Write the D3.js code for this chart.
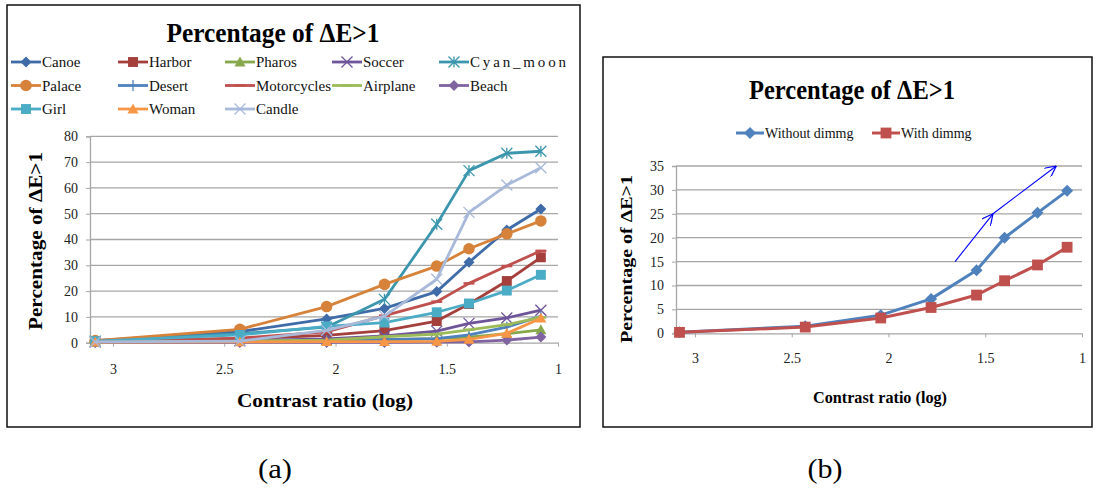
<!DOCTYPE html>
<html>
<head>
<meta charset="utf-8">
<script src="https://cdn.jsdelivr.net/npm/d3@7"></script>
<style>
  html, body { margin: 0; padding: 0; background: #fff; }
  svg { display: block; }
  text { font-family: "Liberation Serif", "Times New Roman", serif; }
</style>
</head>
<body>
<svg id="fig" width="1096" height="488"></svg>
<script>
// Contrast ratio (log) sample positions shared by every series
const contrastLog = [3.08, 2.43, 2.04, 1.78, 1.545, 1.40, 1.23, 1.077];

// Panel (a): percentage of pixels with ΔE > 1 per test image
const seriesNames = ["Canoe", "Harbor", "Pharos", "Soccer", "Cyan_moon", "Palace", "Desert",
                     "Motorcycles", "Airplane", "Beach", "Girl", "Woman", "Candle"];
const canoe       = [0.8, 4.3, 9.2, 13.3, 19.8, 31.2, 43.7, 51.8];
const harbor      = [0.5, 1.5, 2.8, 4.7, 8.4, 15.0, 23.9, 33.1];
const pharos      = [0.2, 0.4, 0.8, 1.2, 1.6, 2.2, 3.5, 5.0];
const soccer      = [0.3, 0.8, 1.5, 2.6, 4.5, 7.5, 9.6, 12.6];
const cyanMoon    = [0.6, 3.5, 6.0, 16.8, 45.9, 66.7, 73.4, 74.2];
const palace      = [0.8, 5.2, 14.0, 22.6, 29.7, 36.4, 42.2, 47.2];
const desert      = [0.3, 0.6, 0.9, 1.2, 1.6, 3.0, 6.0, 10.3];
const motorcycles = [0.5, 1.8, 4.2, 10.5, 15.9, 23.0, 29.7, 35.6];
const airplane    = [0.3, 0.6, 1.0, 2.3, 3.3, 5.0, 7.0, 9.8];
const beach       = [0.1, 0.1, 0.1, 0.1, 0.2, 0.3, 1.0, 2.2];
const girl        = [0.6, 3.0, 6.3, 7.8, 11.8, 15.2, 20.2, 26.3];
const woman       = [0.2, 0.3, 0.4, 0.4, 0.5, 1.3, 3.6, 9.5];
const candle      = [0.3, 0.6, 4.8, 10.3, 24.6, 50.5, 61.1, 67.8];
const seriesValues = [canoe, harbor, pharos, soccer, cyanMoon, palace, desert,
                      motorcycles, airplane, beach, girl, woman, candle];
const seriesColors = ["#3F6CA8", "#A43F3C", "#86A84B", "#6E5499", "#3C96AD", "#D7823A", "#4F81BD",
                      "#C0504D", "#9BBB59", "#8064A2", "#4BACC6", "#F79646", "#A8B9DA"];
const seriesMarkers = ["diamond", "square", "triangle", "x", "star", "circle", "plus",
                       "dash", "dash", "diamond", "square", "triangle", "x"];
const yTicksA = [0, 10, 20, 30, 40, 50, 60, 70, 80];
const xTicks = [3, 2.5, 2, 1.5, 1];

// Panel (b): average over all images, without and with dimming
const dimNames = ["Without dimmg", "With dimmg"];
const withoutDimming = [0.2, 1.5, 3.8, 7.2, 13.2, 20.0, 25.2, 29.8];
const withDimming    = [0.2, 1.3, 3.2, 5.4, 8.0, 11.0, 14.3, 18.0];
const dimColors = ["#4F81BD", "#C0504D"];
const dimMarkers = ["diamond", "square"];
const yTicksB = [0, 5, 10, 15, 20, 25, 30, 35];
// trend arrow annotation, as (contrast log, percentage) pairs
const trendArrow = [[1.656, 15], [1.46, 25], [1.133, 35]];

const svg = d3.select("#fig");
const gridColor = "#A6A6A6";

function drawMarker(g, type, x, y, color, size) {
  const s = size / 2;
  if (type === "diamond") {
    g.append("path").attr("d", `M${x},${y - s}L${x + s},${y}L${x},${y + s}L${x - s},${y}Z`).attr("fill", color);
  } else if (type === "square") {
    g.append("rect").attr("x", x - s * 0.9).attr("y", y - s * 0.9).attr("width", s * 1.8).attr("height", s * 1.8).attr("fill", color);
  } else if (type === "triangle") {
    g.append("path").attr("d", `M${x},${y - s}L${x + s},${y + s * 0.8}L${x - s},${y + s * 0.8}Z`).attr("fill", color);
  } else if (type === "circle") {
    g.append("circle").attr("cx", x).attr("cy", y).attr("r", s * 1.05).attr("fill", color);
  } else if (type === "x") {
    g.append("path").attr("d", `M${x - s},${y - s}L${x + s},${y + s}M${x - s},${y + s}L${x + s},${y - s}`)
      .attr("stroke", color).attr("stroke-width", 1.3).attr("fill", "none");
  } else if (type === "star") {
    g.append("path").attr("d", `M${x - s},${y - s}L${x + s},${y + s}M${x - s},${y + s}L${x + s},${y - s}M${x},${y - s}L${x},${y + s}`)
      .attr("stroke", color).attr("stroke-width", 1.3).attr("fill", "none");
  } else if (type === "plus") {
    g.append("path").attr("d", `M${x},${y - s}L${x},${y + s}`)
      .attr("stroke", color).attr("stroke-width", 1.3).attr("fill", "none");
  } else if (type === "dash") {
    g.append("path").attr("d", `M${x - s},${y}L${x + s},${y}`)
      .attr("stroke", color).attr("stroke-width", 2.5).attr("fill", "none");
  }
}

function drawPanel(opt) {
  const g = svg.append("g");
  const clipId = opt.id + "-clip";
  svg.append("clipPath").attr("id", clipId).append("rect")
    .attr("x", opt.box[0]).attr("y", opt.box[1]).attr("width", opt.box[2] - opt.box[0]).attr("height", opt.box[3] - opt.box[1]);
  const inner = g.append("g").attr("clip-path", `url(#${clipId})`);

  const x = d3.scaleLinear().domain(opt.xDomain).range([opt.plot.left, opt.plot.right]);
  const y = d3.scaleLinear().domain([0, opt.yMax]).range([opt.plot.bottom, opt.plot.top]);

  // horizontal gridlines
  inner.append("g").selectAll("line").data(opt.yTicks.filter(d => d > 0)).join("line")
    .attr("x1", opt.plot.left).attr("x2", opt.plot.right)
    .attr("y1", d => y(d)).attr("y2", d => y(d))
    .attr("stroke", gridColor).attr("stroke-width", 1.3);

  // y axis
  const yAxis = inner.append("g").attr("transform", `translate(${opt.plot.left},0)`)
    .call(d3.axisLeft(y).tickValues(opt.yTicks).tickSize(4).tickPadding(8).tickFormat(d3.format("d")));
  yAxis.select(".domain").attr("stroke", gridColor).attr("stroke-width", 1.3);
  yAxis.selectAll(".tick line").attr("stroke", gridColor);
  yAxis.selectAll(".tick text").attr("font-size", opt.tickFont).attr("fill", "#222")
    .attr("font-family", "Liberation Serif");

  // x axis
  const xAxis = inner.append("g").attr("transform", `translate(0,${opt.plot.bottom})`)
    .call(d3.axisBottom(x).tickValues(xTicks).tickSize(4).tickSizeOuter(0).tickPadding(opt.xTickPad).tickFormat(d => String(d)));
  xAxis.select(".domain").attr("stroke", gridColor).attr("stroke-width", 1.3);
  xAxis.selectAll(".tick line").attr("stroke", gridColor);
  xAxis.selectAll(".tick text").attr("font-size", opt.tickFont).attr("fill", "#222")
    .attr("font-family", "Liberation Serif");

  // series lines and markers
  const line = d3.line().x((d, i) => x(contrastLog[i])).y(d => y(d));
  opt.series.forEach((vals, k) => {
    const sg = inner.append("g");
    sg.append("path").datum(vals).attr("d", line)
      .attr("fill", "none").attr("stroke", opt.colors[k]).attr("stroke-width", opt.lineWidth)
      .attr("stroke-linejoin", "round");
    vals.forEach((v, i) => drawMarker(sg, opt.markers[k], x(contrastLog[i]), y(v), opt.colors[k], opt.markerSize));
  });

  // titles
  inner.append("text").attr("x", opt.title[0]).attr("y", opt.title[1]).attr("text-anchor", "middle")
    .attr("font-size", opt.title[2]).attr("font-weight", "bold")
    .attr("textLength", opt.title[3]).attr("lengthAdjust", "spacingAndGlyphs")
    .text("Percentage of ΔE>1");
  inner.append("text").attr("transform", `translate(${opt.yTitle[0]},${opt.yTitle[1]}) rotate(-90)`)
    .attr("text-anchor", "middle").attr("font-size", opt.yTitle[2]).attr("font-weight", "bold")
    .attr("textLength", opt.yTitle[3]).attr("lengthAdjust", "spacingAndGlyphs")
    .text("Percentage of ΔE>1");
  inner.append("text").attr("x", opt.xTitle[0]).attr("y", opt.xTitle[1]).attr("text-anchor", "middle")
    .attr("font-size", opt.xTitle[2]).attr("font-weight", "bold")
    .attr("textLength", opt.xTitle[3]).attr("lengthAdjust", "spacingAndGlyphs")
    .text("Contrast ratio (log)");

  // legend
  opt.names.forEach((name, k) => {
    const [lx, ly] = opt.legendPos(k);
    const lg = inner.append("g");
    lg.append("line").attr("x1", lx).attr("x2", lx + opt.legendLine).attr("y1", ly).attr("y2", ly)
      .attr("stroke", opt.colors[k]).attr("stroke-width", opt.lineWidth);
    drawMarker(lg, opt.markers[k], lx + opt.legendLine / 2, ly, opt.colors[k], opt.markerSize);
    const t = lg.append("text").attr("x", lx + opt.legendLine + 1).attr("y", ly + 5)
      .attr("font-size", opt.legendFont).attr("fill", "#111").text(name);
    const stretch = opt.legendStretch && opt.legendStretch[name];
    if (stretch) t.attr("textLength", stretch).attr("lengthAdjust", "spacing");
  });

  // frame
  g.append("rect").attr("x", opt.box[0]).attr("y", opt.box[1])
    .attr("width", opt.box[2] - opt.box[0]).attr("height", opt.box[3] - opt.box[1])
    .attr("fill", "none").attr("stroke", "#111").attr("stroke-width", 1.5);

  return { g: inner, x, y };
}

// panel (a)
drawPanel({
  id: "pa",
  box: [7, 5, 580, 427],
  plot: { left: 90, right: 558, top: 136.3, bottom: 342.7 },
  xDomain: [3.1034, 1],
  yMax: 80,
  yTicks: yTicksA,
  tickFont: 14,
  xTickPad: 17,
  series: seriesValues,
  names: seriesNames,
  colors: seriesColors,
  markers: seriesMarkers,
  lineWidth: 2.8,
  markerSize: 11,
  title: [273, 42, 27, 213],
  yTitle: [42, 241, 19, 178],
  xTitle: [325, 407, 19, 176],
  legendFont: 15,
  legendLine: 30,
  legendStretch: { "Cyan_moon": 96 },
  legendPos: k => [11 + (k % 5) * 107, 62 + Math.floor(k / 5) * 23.5]
});

// panel (b)
const pb = drawPanel({
  id: "pb",
  box: [603, 57, 1092, 427],
  plot: { left: 676, right: 1082, top: 166, bottom: 333.3 },
  xDomain: [3.098, 1],
  yMax: 35,
  yTicks: yTicksB,
  tickFont: 14,
  xTickPad: 16,
  series: [withoutDimming, withDimming],
  names: dimNames,
  colors: dimColors,
  markers: dimMarkers,
  lineWidth: 3,
  markerSize: 12,
  title: [852, 99, 27, 206],
  yTitle: [632, 259, 16, 168],
  xTitle: [880, 403, 17, 134],
  legendFont: 14,
  legendLine: 28,
  legendPos: k => [736 + k * 136, 133]
});

// trend arrow in panel (b)
const arrowDefs = svg.append("defs");
arrowDefs.append("marker").attr("id", "openArrow").attr("viewBox", "0 0 10 10")
  .attr("refX", 10).attr("refY", 5).attr("markerWidth", 11).attr("markerHeight", 11)
  .attr("markerUnits", "userSpaceOnUse").attr("orient", "auto")
  .append("path").attr("d", "M0,0L10,5L0,10").attr("fill", "none").attr("stroke", "#0000FF").attr("stroke-width", 1.1);
for (let i = 0; i < trendArrow.length - 1; i++) {
  const a = trendArrow[i], b = trendArrow[i + 1];
  pb.g.append("line")
    .attr("x1", pb.x(a[0])).attr("y1", pb.y(a[1]))
    .attr("x2", pb.x(b[0])).attr("y2", pb.y(b[1]))
    .attr("stroke", "#0000FF").attr("stroke-width", 1.1)
    .attr("marker-end", "url(#openArrow)");
}

// sub-figure captions
svg.append("text").attr("x", 275).attr("y", 478).attr("text-anchor", "middle").attr("font-size", 28)
  .attr("textLength", 34).attr("lengthAdjust", "spacingAndGlyphs").text("(a)");
svg.append("text").attr("x", 825).attr("y", 478).attr("text-anchor", "middle").attr("font-size", 28)
  .attr("textLength", 35).attr("lengthAdjust", "spacingAndGlyphs").text("(b)");
</script>
</body>
</html>
